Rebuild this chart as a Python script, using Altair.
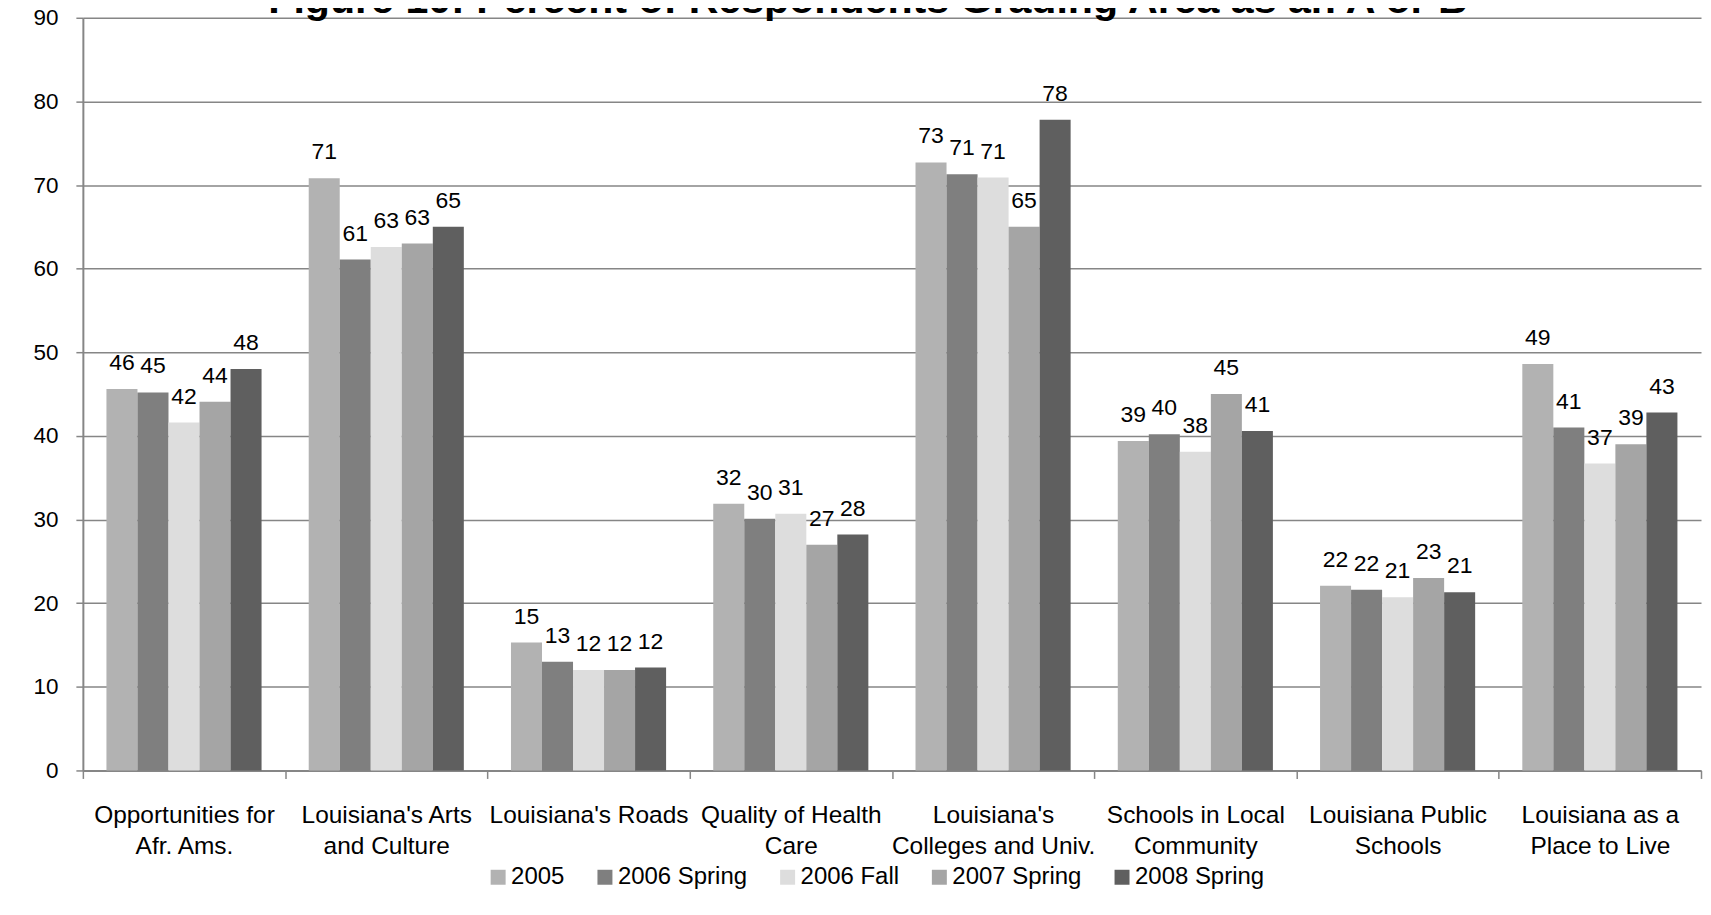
import altair as alt
import pandas as pd

TITLE = "Figure 10: Percent of Respondents Grading Area as an A or B"
categories = [
    "Opportunities for\nAfr. Ams.",
    "Louisiana's Arts\nand Culture",
    "Louisiana's Roads",
    "Quality of Health\nCare",
    "Louisiana's\nColleges and Univ.",
    "Schools in Local\nCommunity",
    "Louisiana Public\nSchools",
    "Louisiana as a\nPlace to Live",
]
series = ["2005", "2006 Spring", "2006 Fall", "2007 Spring", "2008 Spring"]
colors = ["#b2b2b2", "#7f7f7f", "#dddddd", "#a5a5a5", "#5f5f5f"]

v2005 = [45.6, 70.8, 15.3, 31.9, 72.7, 39.4, 22.1, 48.6]
v2006_spring = [45.2, 61.1, 13.0, 30.1, 71.3, 40.2, 21.6, 41.0]
v2006_fall = [41.6, 62.6, 12.0, 30.7, 70.9, 38.1, 20.7, 36.7]
v2007_spring = [44.1, 63.0, 12.0, 27.0, 65.0, 45.0, 23.0, 39.0]
v2008_spring = [48.0, 65.0, 12.3, 28.2, 77.8, 40.6, 21.3, 42.8]
y_ticks = [0, 10, 20, 30, 40, 50, 60, 70, 80, 90]

FONT = "Liberation Sans"
GREY = "#868686"

rows = []
for s, vals in zip(series, [v2005, v2006_spring, v2006_fall, v2007_spring, v2008_spring]):
    for c, v in zip(categories, vals):
        rows.append({"category": c, "series": s, "value": v})
df = pd.DataFrame(rows)

x_enc = alt.X(
    "category:N",
    sort=categories,
    scale=alt.Scale(paddingInner=0, paddingOuter=0),
    axis=alt.Axis(
        title=None,
        labelAngle=0,
        tickBand="extent",
        tickSize=8,
        tickColor=GREY,
        tickWidth=1.5,
        domainColor=GREY,
        domainWidth=2,
        labelPadding=25,
        labelBaseline="top",
        labelExpr="split(datum.label, '\\n')",
        labelLineHeight=31,
        labelFontSize=24.5,
        labelFont=FONT,
        labelColor="black",
        labelLimit=0,
        grid=False,
    ),
)
xoff_enc = alt.XOffset(
    "series:N", sort=series, scale=alt.Scale(paddingInner=0, paddingOuter=0.76)
)
y_enc = alt.Y(
    "value:Q",
    scale=alt.Scale(domain=[0, 90], nice=False),
    axis=alt.Axis(
        title=None,
        values=y_ticks,
        tickSize=7,
        tickColor=GREY,
        tickWidth=1.5,
        domainColor=GREY,
        domainWidth=2,
        gridColor=GREY,
        gridWidth=1.5,
        labelPadding=18,
        labelFontSize=22.5,
        labelFont=FONT,
        labelColor="black",
    ),
)

bars = alt.Chart(df).mark_bar().encode(
    x=x_enc,
    xOffset=xoff_enc,
    y=y_enc,
    color=alt.Color(
        "series:N",
        sort=series,
        scale=alt.Scale(domain=series, range=colors),
        legend=alt.Legend(
            title=None,
            orient="none",
            legendX=404,
            legendY=849,
            direction="horizontal",
            symbolType="square",
            symbolSize=225,
            symbolStrokeWidth=0,
            labelFontSize=24,
            labelFont=FONT,
            labelColor="black",
            labelOffset=1,
            columnPadding=28,
            padding=0,
        ),
    ),
)

labels = alt.Chart(df).mark_text(
    dy=-19, baseline="alphabetic", fontSize=23, font=FONT, color="black"
).encode(
    x=alt.X("category:N", sort=categories),
    xOffset=alt.XOffset("series:N", sort=series),
    y="value:Q",
    text=alt.Text("value:Q", format=".0f"),
)

title = alt.Chart(pd.DataFrame({"t": [TITLE]})).mark_text(
    fontSize=41.2, fontWeight="bold", font=FONT, baseline="alphabetic", align="center", color="black"
).encode(x=alt.value(786.5), y=alt.value(-5), text="t:N")

chart = (
    alt.layer(bars, labels, title)
    .properties(
        width=1621,
        height=754,
        autosize=alt.AutoSizeParams(type="none"),
        padding={"left": 75, "top": 9, "right": 2, "bottom": 137},
    )
    .configure_view(stroke=None)
)

chart.save("out.html", embed_options={"renderer": "svg", "actions": False})
